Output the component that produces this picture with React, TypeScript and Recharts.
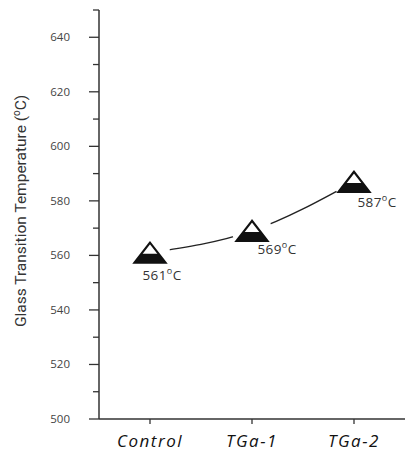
import React from "react"
import { LineChart, Line, XAxis, YAxis } from "recharts"

// sample groups and their glass transition temperature (°C)
const samples = ["Control", "TGa-1", "TGa-2"]
const tgValues = [561, 569, 587]

// axis ticks: every 10 gets a mark, every 20 gets a label
const yTicks = [500, 510, 520, 530, 540, 550, 560, 570, 580, 590, 600, 610, 620, 630, 640, 650]
const yLabelled = [500, 520, 540, 560, 580, 600, 620, 640]

// label nudges, per point (relative to the marker)
const labelDx = [12, 25, 23]
const labelDy = [27, 23, 25]

const data = samples.map((name, i) => ({ name, tg: tgValues[i] }))

const FONT = "'Open Sans', 'DejaVu Sans', sans-serif"

function TriangleDot(props: any) {
  const { cx, cy, index } = props
  if (cx == null || cy == null) return null
  const w = 31
  const h = 20
  const top = cy - h / 2
  const bottom = cy + h / 2
  const bandTop = bottom - h * 0.44
  // x of triangle sides at bandTop
  const half = (w / 2) * ((bandTop - top) / h)
  return (
    <g key={`dot-${index}`}>
      <circle cx={cx} cy={cy} r={20} fill="#fff" />
      <polygon
        points={`${cx},${top} ${cx - w / 2},${bottom} ${cx + w / 2},${bottom}`}
        fill="#fff"
        stroke="#111"
        strokeWidth={2.2}
        strokeLinejoin="miter"
      />
      <polygon
        points={`${cx - half},${bandTop} ${cx + half},${bandTop} ${cx + w / 2},${bottom} ${cx - w / 2},${bottom}`}
        fill="#111"
      />
    </g>
  )
}

function ValueLabel(props: any) {
  const { x, y, value, index } = props
  return (
    <text
      x={x + labelDx[index]}
      y={y + labelDy[index]}
      textAnchor="middle"
      fontFamily={FONT}
      fontSize={13.5}
      fill="#333"
      letterSpacing={0.4}
    >
      {value}
      <tspan fontSize={9} dy={-6}>o</tspan>
      <tspan dy={6}>C</tspan>
    </text>
  )
}

function YTick(props: any) {
  const { x, y, payload } = props
  const v = payload.value
  const major = yLabelled.includes(v)
  return (
    <g>
      <line x1={x - (major ? 10 : 6)} y1={y} x2={x} y2={y} stroke="#333" strokeWidth={1.3} />
      {major && (
        <text x={x - 29} y={y + 4} textAnchor="end" fontFamily={FONT} fontSize={11.5} fill="#444">
          {v}
        </text>
      )}
    </g>
  )
}

function XTick(props: any) {
  const { x, y, payload } = props
  return (
    <g>
      <line x1={x} y1={y} x2={x} y2={y + 5} stroke="#333" strokeWidth={1.3} />
      <text
        x={x}
        y={y + 28}
        textAnchor="middle"
        fontFamily={FONT}
        fontStyle="italic"
        fontSize={17}
        letterSpacing={1.5}
        fill="#111"
      >
        {payload.value}
      </text>
    </g>
  )
}

function YTitle() {
  return (
    <text
      x={0}
      y={0}
      transform="translate(26, 211) rotate(-90)"
      textAnchor="middle"
      fontFamily="'Roboto', 'Liberation Sans', sans-serif"
      fontSize={15.5}
      fill="#333"
    >
      Glass Transition Temperature (
      <tspan fontSize={10} dy={-6}>o</tspan>
      <tspan dy={6}>C)</tspan>
    </text>
  )
}

export default function App() {
  return (
    <div style={{ position: "absolute", left: 0, top: 0, width: 405, height: 451, background: "#fff" }}>
      <LineChart width={405} height={451} data={data} margin={{ top: 10, right: 0, bottom: 2, left: 0 }}>
        <XAxis
          dataKey="name"
          height={30}
          padding={{ left: 51, right: 51 }}
          axisLine={{ stroke: "#333", strokeWidth: 1.5 }}
          tickLine={false}
          tickSize={0}
          tickMargin={0}
          tick={<XTick />}
          interval={0}
        />
        <YAxis
          width={99}
          domain={[500, 650]}
          ticks={yTicks}
          interval={0}
          axisLine={{ stroke: "#333", strokeWidth: 1.5 }}
          tickLine={false}
          tickSize={0}
          tickMargin={0}
          tick={<YTick />}
        />
        <Line
          type="monotone"
          dataKey="tg"
          stroke="#222"
          strokeWidth={1.4}
          dot={<TriangleDot />}
          activeDot={false}
          label={<ValueLabel />}
          isAnimationActive={false}
        />
        <YTitle />
      </LineChart>
    </div>
  )
}
